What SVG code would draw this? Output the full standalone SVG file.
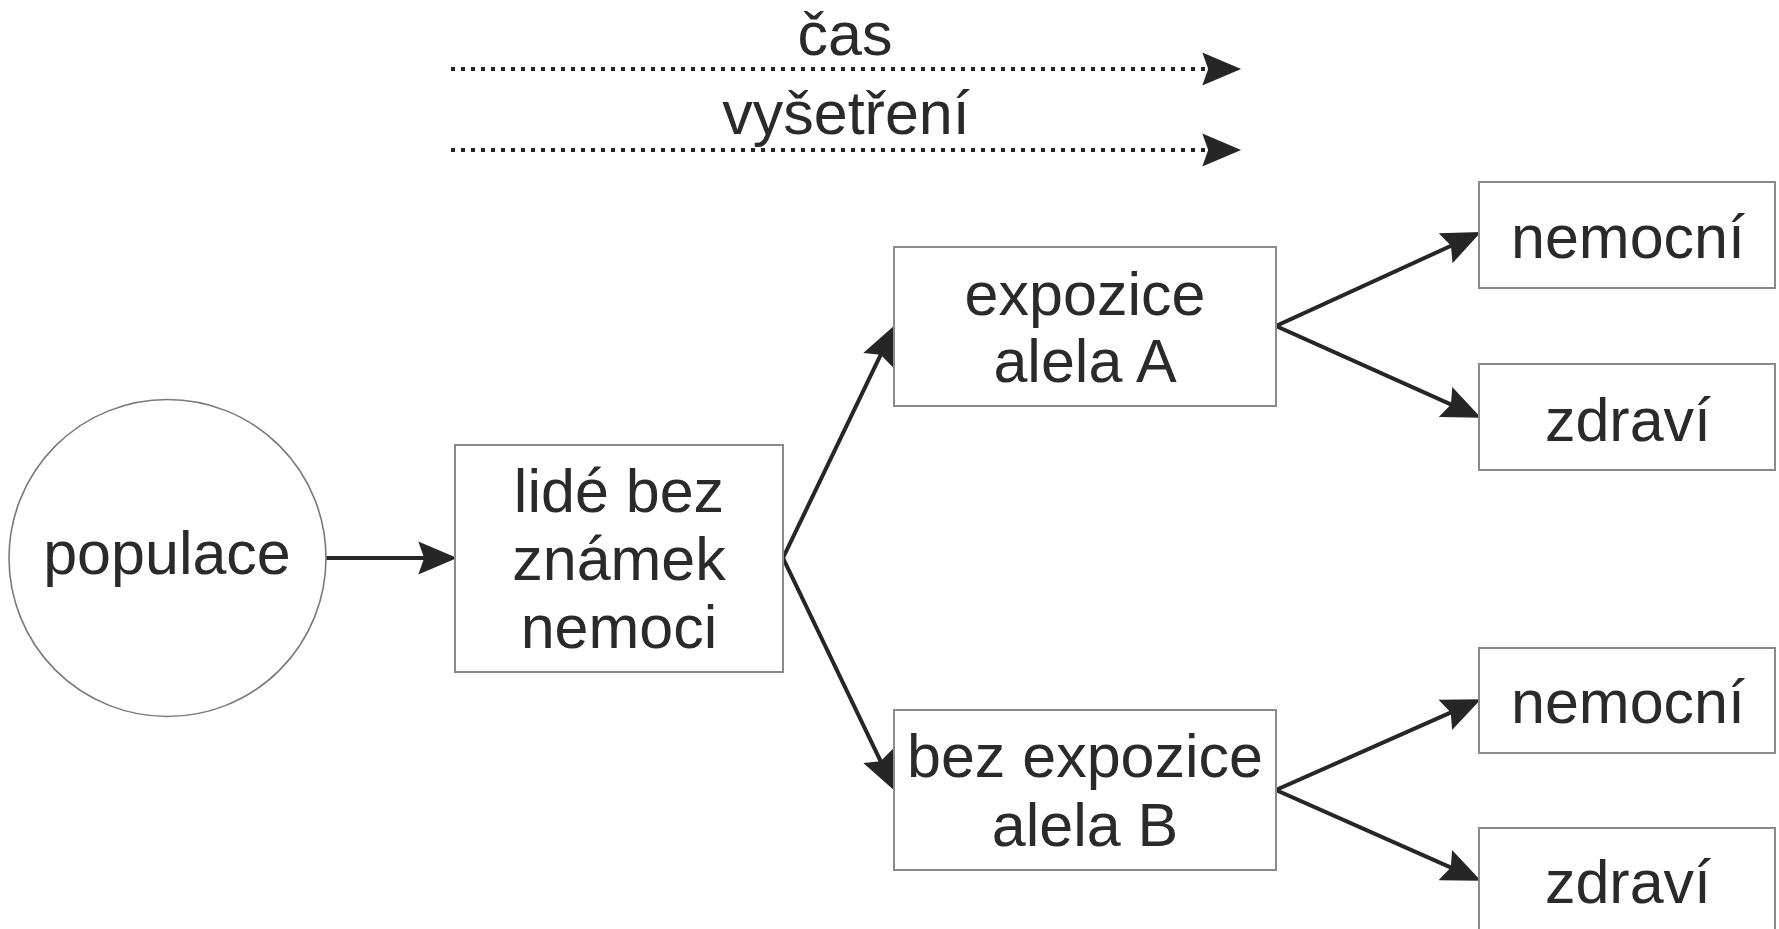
<svg xmlns="http://www.w3.org/2000/svg" width="1779" height="929" viewBox="0 0 1779 929">
<style>
  .box { fill: #ffffff; stroke: #8a8a8a; stroke-width: 2; }
  .circ { fill: #ffffff; stroke: #7a7a7a; stroke-width: 1.6; }
  .lbl { font-family: "Liberation Sans", Arial, sans-serif; font-size: 61px; fill: #2a2a2a; text-anchor: middle; }
  .conn { fill: none; stroke: #262626; stroke-width: 4; stroke-linejoin: miter; stroke-miterlimit: 20; }
  .dot { fill: none; stroke: #262626; stroke-width: 4; stroke-dasharray: 4 6; }
</style>
<defs>
  <marker id="arr" markerUnits="userSpaceOnUse" markerWidth="40" markerHeight="34" viewBox="0 0 34 28" refX="21" refY="14" orient="auto-start-reverse">
    <path d="M0,0 L33,14 L0,28 L5,14 z" fill="#262626"/>
  </marker>
</defs>
<rect width="1779" height="929" fill="#ffffff"/>

<g id="connectors">
  <path class="dot" d="M451,69 L1227,69" marker-end="url(#arr)"/>
  <path class="dot" d="M451,150 L1227,150" marker-end="url(#arr)"/>
  <path class="conn" d="M326,558 L443,558" marker-end="url(#arr)"/>
  <path class="conn" d="M888.8,337.8 L783,558 L888.8,778.2" marker-start="url(#arr)" marker-end="url(#arr)"/>
  <path class="conn" d="M1468.1,238 L1276,326 L1468.1,412.1" marker-start="url(#arr)" marker-end="url(#arr)"/>
  <path class="conn" d="M1468,704.9 L1276,790 L1468,875.1" marker-start="url(#arr)" marker-end="url(#arr)"/>
</g>

<g id="label-cas"><text class="lbl" x="845" y="55" font-size="60">čas</text></g>
<g id="label-vysetreni"><text class="lbl" x="846" y="134">vyšetření</text></g>

<g id="populace">
  <circle class="circ" cx="167.5" cy="558" r="158.5"/>
  <text class="lbl" x="167" y="574">populace</text>
</g>

<g id="lide">
  <rect class="box" x="455" y="445" width="328" height="227"/>
  <text class="lbl" x="619" y="512">lidé bez</text>
  <text class="lbl" x="619" y="580">známek</text>
  <text class="lbl" x="619" y="648">nemoci</text>
</g>

<g id="expozice">
  <rect class="box" x="894" y="247" width="382" height="159"/>
  <text class="lbl" x="1085" y="315">expozice</text>
  <text class="lbl" x="1085" y="382">alela A</text>
</g>

<g id="bez-expozice">
  <rect class="box" x="894" y="710" width="382" height="160"/>
  <text class="lbl" x="1085" y="777">bez expozice</text>
  <text class="lbl" x="1085" y="846">alela B</text>
</g>

<g id="nemocni-a">
  <rect class="box" x="1479" y="182" width="296" height="106"/>
  <text class="lbl" x="1628" y="258">nemocní</text>
</g>

<g id="zdravi-a">
  <rect class="box" x="1479" y="364" width="296" height="106"/>
  <text class="lbl" x="1628" y="441">zdraví</text>
</g>

<g id="nemocni-b">
  <rect class="box" x="1479" y="648" width="296" height="105"/>
  <text class="lbl" x="1628" y="723">nemocní</text>
</g>

<g id="zdravi-b">
  <rect class="box" x="1479" y="828" width="296" height="106"/>
  <text class="lbl" x="1628" y="903">zdraví</text>
</g>
</svg>
